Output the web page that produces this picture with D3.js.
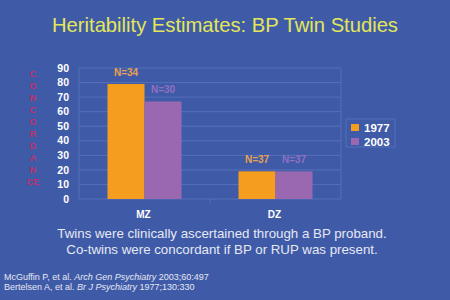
<!DOCTYPE html>
<html>
<head>
<meta charset="utf-8">
<script src="https://cdn.jsdelivr.net/npm/d3@7"></script>
<style>
  body { margin: 0; background: #3f5ba8; }
  svg { display: block; font-family: "Liberation Sans", Arial, sans-serif; }
</style>
</head>
<body>
<svg id="chart" width="450" height="300"></svg>
<script>
const groups = ["MZ", "DZ"]
const years = ["1977", "2003"]
const values1977 = [79, 19]
const values2003 = [67, 19]
const nLabels1977 = ["N=34", "N=37"]
const nLabels2003 = ["N=30", "N=37"]
const yTicks = [0, 10, 20, 30, 40, 50, 60, 70, 80, 90]
const axisLetters = ["C", "O", "N", "C", "O", "R", "D", "A", "N", "CE"]

const colors = { "1977": "#f49d1f", "2003": "#9a68b0" }
const labelColors = { "1977": "#e8a050", "2003": "#9070c0" }

const rows = groups.map((g, i) => ({
  group: g,
  vals: [
    { year: "1977", v: values1977[i], n: nLabels1977[i] },
    { year: "2003", v: values2003[i], n: nLabels2003[i] }
  ]
}))

const svg = d3.select("#chart")
const margins = { left: 79, right: 109, top: 68, bottom: 101 }
const innerW = 450 - margins.left - margins.right
const innerH = 300 - margins.top - margins.bottom

svg.append("rect").attr("width", 450).attr("height", 300).attr("fill", "#3f5ba8")

svg.append("text")
  .attr("x", 225).attr("y", 32)
  .attr("text-anchor", "middle")
  .attr("fill", "#e4e65a")
  .attr("font-size", 20.2)
  .text("Heritability Estimates: BP Twin Studies")

const g = svg.append("g")
  .attr("transform", `translate(${margins.left}, ${margins.top})`)

const x0 = d3.scaleBand().domain(groups).range([0, innerW])
const x1 = d3.scaleBand().domain(years).range([0, 74])
const y = d3.scaleLinear().domain([0, 90]).range([innerH, 0])

// grid
g.selectAll("line.grid")
  .data(yTicks.slice(1))
  .enter()
  .append("line")
  .attr("class", "grid")
  .attr("x1", 0).attr("x2", innerW)
  .attr("y1", d => y(d)).attr("y2", d => y(d))
  .attr("stroke", "#5670b8").attr("stroke-width", 1)

// plot frame
g.append("line").attr("x1", 0).attr("x2", 0).attr("y1", 0).attr("y2", innerH)
  .attr("stroke", "#5670b8")
g.append("line").attr("x1", innerW).attr("x2", innerW).attr("y1", 0).attr("y2", innerH)
  .attr("stroke", "#5670b8")
g.append("line").attr("x1", 0).attr("x2", innerW).attr("y1", innerH).attr("y2", innerH)
  .attr("stroke", "#5670b8")
g.selectAll("line.sep")
  .data(groups.slice(1))
  .enter()
  .append("line")
  .attr("x1", d => x0(d)).attr("x2", d => x0(d))
  .attr("y1", innerH).attr("y2", innerH + 4)
  .attr("stroke", "#5670b8")

// y tick labels
g.selectAll("text.ytick")
  .data(yTicks)
  .enter()
  .append("text")
  .attr("x", -10)
  .attr("y", d => y(d))
  .attr("dy", "0.35em")
  .attr("text-anchor", "end")
  .attr("fill", "#ffffff")
  .attr("font-weight", "bold")
  .attr("font-size", 10.5)
  .text(d => d)

// bars
const barGroups = g.selectAll("g.grp")
  .data(rows)
  .enter()
  .append("g")
  .attr("transform", d => `translate(${x0(d.group) + (x0.bandwidth() - 74) / 2}, 0)`)

barGroups.selectAll("rect")
  .data(d => d.vals)
  .enter()
  .append("rect")
  .attr("x", d => x1(d.year))
  .attr("width", x1.bandwidth())
  .attr("y", d => y(d.v))
  .attr("height", d => innerH - y(d.v))
  .attr("fill", d => colors[d.year])

barGroups.selectAll("text")
  .data(d => d.vals)
  .enter()
  .append("text")
  .attr("x", d => x1(d.year) + x1.bandwidth() / 2)
  .attr("y", d => y(d.v) - 8)
  .attr("text-anchor", "middle")
  .attr("fill", d => labelColors[d.year])
  .attr("font-weight", "bold")
  .attr("font-size", 10)
  .text(d => d.n)

// category labels
g.selectAll("text.cat")
  .data(groups)
  .enter()
  .append("text")
  .attr("x", d => x0(d) + x0.bandwidth() / 2 - 1)
  .attr("y", innerH + 19)
  .attr("text-anchor", "middle")
  .attr("fill", "#ffffff")
  .attr("font-weight", "bold")
  .attr("font-size", 10)
  .text(d => d)

// stacked vertical axis title
svg.selectAll("text.ylab")
  .data(axisLetters)
  .enter()
  .append("text")
  .attr("x", 33)
  .attr("y", (d, i) => 77 + i * 12)
  .attr("text-anchor", "middle")
  .attr("fill", "#c0306a")
  .attr("font-weight", "bold")
  .attr("font-size", 9)
  .text(d => d)

// legend
const lg = svg.append("g").attr("transform", "translate(346, 119)")
lg.append("rect").attr("width", 49).attr("height", 28)
  .attr("fill", "none").attr("stroke", "#5670b8")
years.forEach((yr, i) => {
  lg.append("rect").attr("x", 5).attr("y", 5 + i * 14).attr("width", 8).attr("height", 7)
    .attr("fill", colors[yr])
  lg.append("text").attr("x", 18).attr("y", 12.5 + i * 14)
    .attr("fill", "#ffffff").attr("font-weight", "bold").attr("font-size", 11.5)
    .text(yr)
})

// notes
const notes = [
  "Twins were clinically ascertained through a BP proband.",
  "Co-twins were concordant if BP or RUP was present."
]
svg.selectAll("text.note")
  .data(notes)
  .enter()
  .append("text")
  .attr("x", 222)
  .attr("y", (d, i) => 238 + i * 16)
  .attr("text-anchor", "middle")
  .attr("fill", "#e6e8f2")
  .attr("font-size", 13.3)
  .text(d => d)

const refs = [
  ["McGuffin P, et al.  ", "Arch Gen Psychiatry", " 2003;60:497"],
  ["Bertelsen A, et al.  ", "Br J Psychiatry", " 1977;130:330"]
]
refs.forEach((r, i) => {
  const t = svg.append("text").attr("x", 4).attr("y", 280 + i * 10)
    .attr("fill", "#e6e8f2").attr("font-size", 9)
  t.append("tspan").text(r[0])
  t.append("tspan").attr("font-style", "italic").text(r[1])
  t.append("tspan").text(r[2])
})
</script>
</body>
</html>
